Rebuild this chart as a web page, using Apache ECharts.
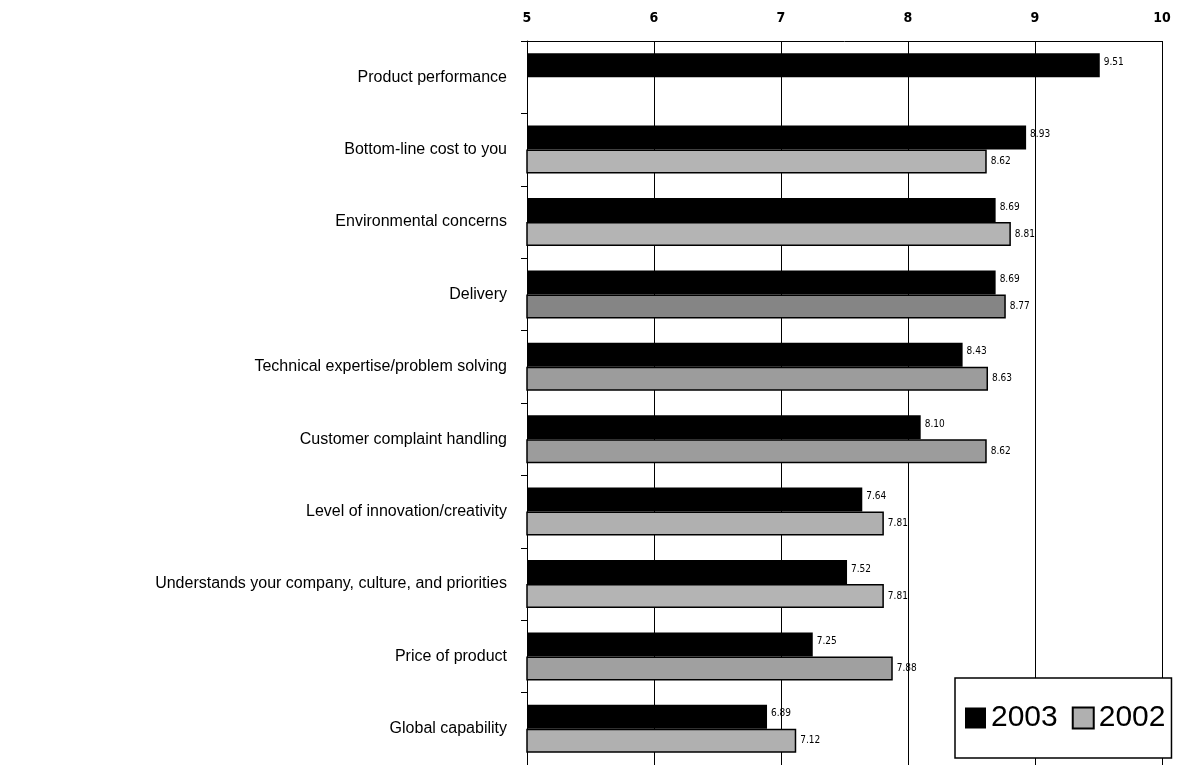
<!DOCTYPE html>
<html>
<head>
<meta charset="utf-8">
<script src="https://cdn.jsdelivr.net/npm/echarts@6/dist/echarts.min.js"></script>
<style>
  html, body { margin: 0; padding: 0; background: #fff; }
  #chart { width: 1180px; height: 765px; }
</style>
</head>
<body>
<div id="chart"></div>
<script>
// categories, top to bottom
const categories = [
  'Product performance',
  'Bottom-line cost to you',
  'Environmental concerns',
  'Delivery',
  'Technical expertise/problem solving',
  'Customer complaint handling',
  'Level of innovation/creativity',
  'Understands your company, culture, and priorities',
  'Price of product',
  'Global capability'
]
const values2003 = [9.51, 8.93, 8.69, 8.69, 8.43, 8.10, 7.64, 7.52, 7.25, 6.89]
const values2002 = [null, 8.62, 8.81, 8.77, 8.63, 8.62, 7.81, 7.81, 7.88, 7.12]
const xTicks = [5, 6, 7, 8, 9, 10]

// shades of the dithered 2002 bars (they differ a bit in the scan)
const greys2002 = ['#b0b0b0', '#b4b4b4', '#b4b4b4', '#858585', '#9c9c9c', '#9c9c9c', '#b0b0b0', '#b4b4b4', '#a0a0a0', '#b0b0b0']

const numFont = '"Liberation Sans Narrow", "DejaVu Sans Condensed", sans-serif'

const chart = echarts.init(document.getElementById('chart'))

chart.setOption({
  animation: false,
  grid: {
    left: 527,
    right: 18,
    top: 41,
    bottom: 0,
    containLabel: false
  },
  legend: {
    data: ['2003', '2002'],
    icon: 'rect',
    left: 955,
    top: 678,
    padding: [25, 6, 25, 10],
    itemWidth: 21,
    itemHeight: 21,
    itemGap: 14,
    borderColor: '#000',
    borderWidth: 1.5,
    backgroundColor: '#fff',
    textStyle: {
      fontFamily: 'Liberation Sans, Arial, sans-serif',
      fontSize: 30,
      color: '#000',
      padding: [0, 0, 0, 0]
    }
  },
  xAxis: {
    type: 'value',
    position: 'top',
    min: xTicks[0],
    max: xTicks[xTicks.length - 1],
    interval: 1,
    axisLine: { show: true, lineStyle: { color: '#000', width: 1 } },
    axisTick: { show: false },
    splitLine: { show: true, lineStyle: { color: '#000', width: 1 } },
    axisLabel: {
      margin: 16,
      color: '#000',
      fontSize: 14,
      fontWeight: 'bold',
      fontFamily: numFont
    }
  },
  yAxis: {
    type: 'category',
    inverse: true,
    data: categories,
    axisLine: { show: true, lineStyle: { color: '#000', width: 1 } },
    axisTick: { show: true, length: 6, lineStyle: { color: '#000' } },
    axisLabel: {
      margin: 20,
      color: '#000',
      fontSize: 16,
      fontFamily: 'Liberation Sans, Arial, sans-serif'
    }
  },
  series: [{
    name: '2003',
    type: 'bar',
    barWidth: 24,
    barGap: '0%',
    data: values2003,
    itemStyle: { color: '#000' },
    label: {
      show: true,
      position: 'right',
      distance: 4,
      offset: [0, -3],
      color: '#000',
      fontSize: 10,
      fontFamily: numFont,
      formatter: p => p.value.toFixed(2)
    }
  }, {
    name: '2002',
    type: 'bar',
    barWidth: 24,
    barGap: '0%',
    data: values2002.map((v, i) => ({
      value: v,
      itemStyle: { color: greys2002[i] }
    })),
    itemStyle: { color: '#b0b0b0', borderColor: '#000', borderWidth: 1.5 },
    label: {
      show: true,
      position: 'right',
      distance: 4,
      color: '#000',
      fontSize: 10,
      fontFamily: numFont,
      formatter: p => p.value == null ? '' : p.value.toFixed(2)
    }
  }]
})
</script>
</body>
</html>
